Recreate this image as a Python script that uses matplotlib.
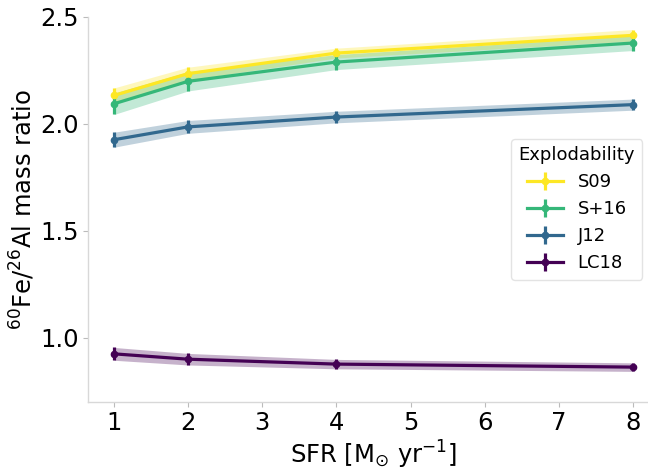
import numpy as np
import matplotlib
matplotlib.use("Agg")
import matplotlib.pyplot as plt

# Dados
sfr = [1, 2, 4, 8]
modelos = ["S09", "S+16", "J12", "LC18"]
razao = {
    "S09": [2.132, 2.234, 2.330, 2.413],
    "S+16": [2.093, 2.198, 2.288, 2.377],
    "J12": [1.925, 1.985, 2.031, 2.089],
    "LC18": [0.924, 0.899, 0.876, 0.862],
}
erro = {
    "S09": [0.035, 0.030, 0.023, 0.027],
    "S+16": [0.050, 0.045, 0.035, 0.035],
    "J12": [0.035, 0.030, 0.027, 0.026],
    "LC18": [0.030, 0.027, 0.022, 0.020],
}
cores = ["#fde725", "#35b779", "#31688e", "#440154"]

fig = plt.figure(figsize=(6.48, 4.71), dpi=100)
ax = fig.add_axes([0.1358, 0.147, 0.881, 0.8175])

for nome, cor in zip(modelos, cores):
    y = np.array(razao[nome])
    e = np.array(erro[nome])
    ax.fill_between(sfr, y - e, y + e, color=cor, alpha=0.3, linewidth=0)
    ax.errorbar(sfr, y, yerr=e, color=cor, lw=2.3, marker="o", ms=4.5,
                elinewidth=2.3, capsize=0, label=nome)

ax.set_xlim(0.65, 8.35)
ax.set_ylim(0.7, 2.5)
ax.set_xticks(range(1, 9))
ax.set_yticks([1.0, 1.5, 2.0, 2.5])
ax.tick_params(labelsize=17.5, length=3.5, width=0.8, color="#bbbbbb", pad=3)
for lado in ["top", "right"]:
    ax.spines[lado].set_visible(False)
for lado in ["left", "bottom"]:
    ax.spines[lado].set_color("#d8d8d8")
    ax.spines[lado].set_linewidth(1.0)

ax.set_xlabel(r"SFR [M$_{\odot}$ yr$^{-1}$]", fontsize=17.5, labelpad=3)
ax.set_ylabel(r"$^{60}$Fe/$^{26}$Al mass ratio", fontsize=17.5, labelpad=2)

leg = ax.legend(title="Explodability", fontsize=13, title_fontsize=13,
                loc="center right", bbox_to_anchor=(0.971, 0.5), borderaxespad=0,
                handlelength=2.0)
leg.get_frame().set_edgecolor("#dddddd")

plt.savefig("out.png", dpi=100)
